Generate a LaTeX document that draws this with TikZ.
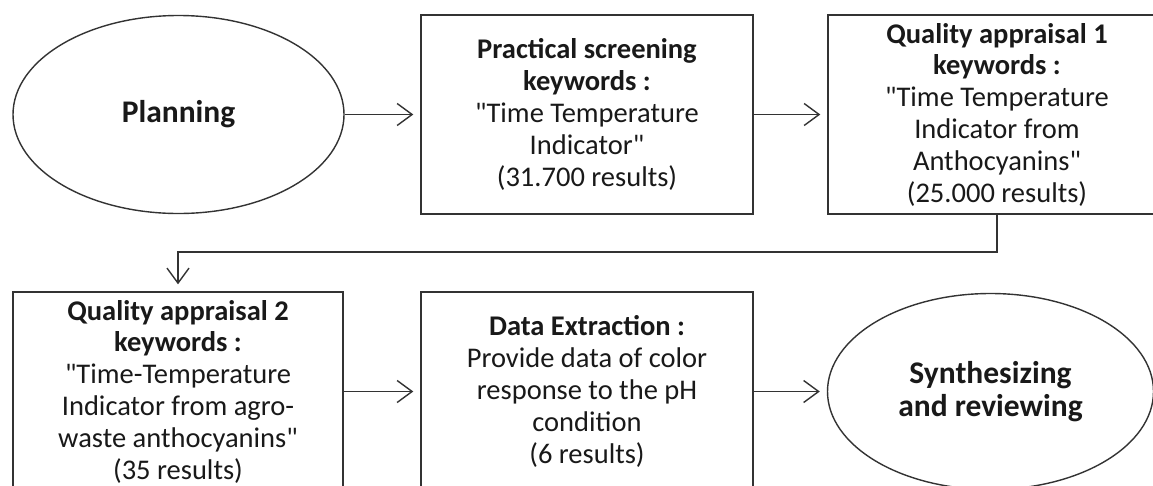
\documentclass[tikz,border=0pt]{standalone}
\usepackage{fontspec}
\setmainfont{Carlito}[Ligatures=TeXOff]
\usetikzlibrary{arrows.meta,shapes.geometric,calc}
\begin{document}
\begin{tikzpicture}[x=1pt,y=-1pt,
  line/.style={draw=black!80,line width=1.4pt},
  boxnode/.style={line,rectangle,minimum width=332pt,minimum height=199pt,inner sep=0pt,align=center,
    font=\fontsize{28.5}{31.8}\selectfont,text=black!90},
  ovalnode/.style={line,ellipse,minimum width=331pt,minimum height=198pt,inner sep=0pt,align=center,
    font=\fontsize{31.5}{33.5}\selectfont\bfseries,text=black!90},
  arr/.style={line,-{Straight Barb[length=15pt,width=22pt,line width=1.4pt]},shorten >=7pt}]
\useasboundingbox (0,0) rectangle (1153,485);
\clip (0,0) rectangle (1153,485);
\fill[white] (0,0) rectangle (1153,485);
\node[ovalnode] (plan) at (178.5,114.5) {Planning};
\node[boxnode] (ps) at (587,114.5) {\textbf{Practical screening}\\\textbf{keywords :}\\"Time Temperature\\Indicator"\\(31.700 results)};
\node[boxnode,minimum width=338pt] (qa1) at (997,114.5) {\textbf{Quality appraisal 1}\\\textbf{keywords :}\\"Time Temperature\\Indicator from\\Anthocyanins"\\(25.000 results)};
\node[boxnode,minimum width=330pt] (qa2) at (178,391.5) {\textbf{Quality appraisal 2}\\\textbf{keywords :}\\"Time-Temperature\\Indicator from agro-\\waste anthocyanins"\\(35 results)};
\node[boxnode] (de) at (587,391.5) {\textbf{Data Extraction :}\\Provide data of color\\response to the pH\\condition\\(6 results)};
\node[ovalnode,minimum width=326pt,minimum height=196pt] (syn) at (990.5,391.5) {Synthesizing\\and reviewing};
\coordinate (turn) at (178,252);
\draw[arr] (plan) -- (ps);
\draw[arr] (ps) -- (qa1);
\draw[arr] (qa1.south) |- (turn) -- (qa2.north);
\draw[arr] (qa2) -- (de);
\draw[arr] (de) -- (syn);
\end{tikzpicture}
\end{document}
